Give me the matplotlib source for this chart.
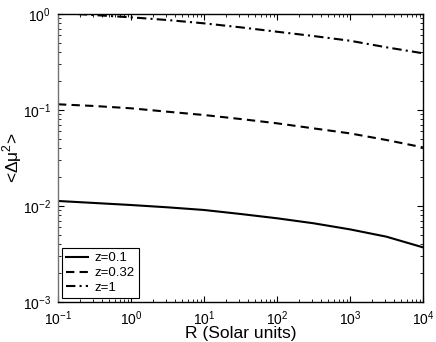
import numpy as np
import matplotlib
matplotlib.use('Agg')
import matplotlib.pyplot as plt

plt.rcParams['font.family'] = ['Liberation Sans', 'DejaVu Sans']
plt.rcParams['mathtext.fontset'] = 'custom'
plt.rcParams['mathtext.rm'] = 'Liberation Sans'

# values (half-decade steps)
R = [0.1, 0.316, 1, 3.16, 10, 31.6, 100, 316, 1000, 3162, 10000]
mu_z01 = [0.01128, 0.01075, 0.01024, 0.00969, 0.00909, 0.00826,
          0.00745, 0.00661, 0.00571, 0.00479, 0.00371]
mu_z032 = [0.1147, 0.1101, 0.1042, 0.0960, 0.0887, 0.0806,
           0.0727, 0.0644, 0.0571, 0.0487, 0.0408]
mu_z1 = [1.03, 0.975, 0.924, 0.866, 0.80, 0.727,
         0.654, 0.590, 0.527, 0.450, 0.390]

fig = plt.figure(figsize=(4.36, 3.42), dpi=100)
ax = fig.add_axes([0.133, 0.117, 0.837, 0.842])

ax.plot(R, mu_z01, color='k', lw=1.5, ls='-', label='z=0.1')
ax.plot(R, mu_z032, color='k', lw=1.5, ls=(0, (4, 2.5)), label='z=0.32')
ax.plot(R, mu_z1, color='k', lw=1.5, ls=(0, (4.5, 2, 1, 2)), label='z=1')

ax.set_xscale('log')
ax.set_yscale('log')
ax.set_xlim(0.1, 1e4)
ax.set_ylim(1e-3, 1)
ax.tick_params(which='both', direction='in', top=True, right=True, labelsize=10)
ax.tick_params(which='major', length=4, pad=5)
ax.tick_params(which='minor', length=2)
ax.set_xlabel('R (Solar units)', fontsize=12.5)
ax.set_ylabel(r'<Δμ$^2$>', fontsize=12.5)
ax.xaxis.set_label_coords(0.5, -0.085)
ax.yaxis.set_label_coords(-0.094, 0.5)
for s in ax.spines.values():
    s.set_linewidth(1.0)
ax.spines['left'].set_color('0.45')

leg = ax.legend(loc='lower left', fontsize=9.5, fancybox=False, edgecolor='k',
                framealpha=1, borderaxespad=0.3, handlelength=1.7,
                handletextpad=0.5, labelspacing=0.2, borderpad=0.3)
leg.get_frame().set_linewidth(0.8)

fig.savefig('out.png', dpi=100)
